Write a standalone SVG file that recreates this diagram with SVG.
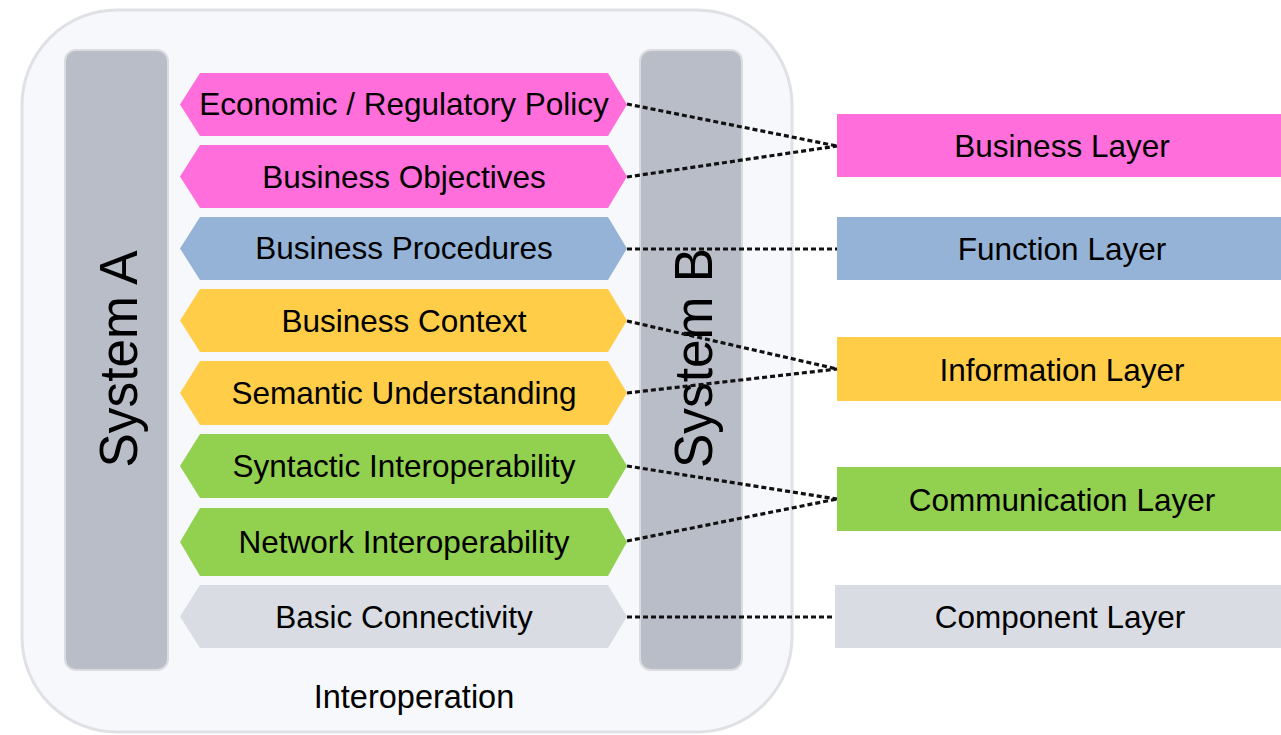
<svg xmlns="http://www.w3.org/2000/svg" width="1281" height="735" viewBox="0 0 1281 735">
<defs>
<style>
text{font-family:"Liberation Sans",Arial,sans-serif;fill:#000;text-anchor:middle}
.lbl{font-size:31.5px}
.title{font-size:32.5px}
.sys{font-size:54px}
.bar{fill:#B8BDC8;stroke:#DADCE0;stroke-width:2}
.hex{stroke:none}
.pink{fill:#FF6EDA}
.blue{fill:#95B3D7}
.yellow{fill:#FFCD48}
.green{fill:#92D050}
.gray{fill:#D9DCE2}
.conn{fill:none;stroke:#111;stroke-width:3.2;stroke-dasharray:5 3}
</style>
</defs>
<rect x="0" y="0" width="1281" height="735" fill="#FFFFFF"/>
<g id="interoperation">
<rect x="22" y="10" width="770" height="722" rx="95" ry="95" fill="#F7F8FB" stroke="#DFE1E5" stroke-width="3"/>
<text class="title" x="414" y="708">Interoperation</text>
</g>
<g id="system-a">
<rect class="bar" x="65" y="50" width="103" height="620" rx="11"/>
<text class="sys" transform="translate(137,359) rotate(-90)" textLength="217" lengthAdjust="spacingAndGlyphs">System A</text>
</g>
<g id="system-b">
<rect class="bar" x="640" y="50" width="102" height="620" rx="11"/>
<text class="sys" transform="translate(712,358) rotate(-90)" textLength="220" lengthAdjust="spacingAndGlyphs">System B</text>
</g>
<g id="hex-economic">
<polygon class="hex pink" points="180,104.5 200,73 608,73 627,104.5 608,136 200,136"/>
<text class="lbl" x="404" y="115">Economic / Regulatory Policy</text>
</g>
<g id="hex-objectives">
<polygon class="hex pink" points="180,176.5 200,145 608,145 627,176.5 608,208 200,208"/>
<text class="lbl" x="404" y="188">Business Objectives</text>
</g>
<g id="hex-procedures">
<polygon class="hex blue" points="180,248.5 200,217 608,217 627,248.5 608,280 200,280"/>
<text class="lbl" x="404" y="259">Business Procedures</text>
</g>
<g id="hex-context">
<polygon class="hex yellow" points="180,320.5 200,289 608,289 627,320.5 608,352 200,352"/>
<text class="lbl" x="404" y="332">Business Context</text>
</g>
<g id="hex-semantic">
<polygon class="hex yellow" points="180,393 200,361 608,361 627,393 608,425 200,425"/>
<text class="lbl" x="404" y="404">Semantic Understanding</text>
</g>
<g id="hex-syntactic">
<polygon class="hex green" points="180,466 200,434 608,434 627,466 608,498 200,498"/>
<text class="lbl" x="404" y="477">Syntactic Interoperability</text>
</g>
<g id="hex-network">
<polygon class="hex green" points="180,542 200,508 608,508 627,542 608,576 200,576"/>
<text class="lbl" x="404" y="553">Network Interoperability</text>
</g>
<g id="hex-basic">
<polygon class="hex gray" points="180,616.5 200,585 608,585 627,616.5 608,648 200,648"/>
<text class="lbl" x="404" y="628">Basic Connectivity</text>
</g>
<g id="layer-business">
<rect class="pink" x="837" y="114" width="444" height="63"/>
<text class="lbl" x="1062" y="157">Business Layer</text>
</g>
<g id="layer-function">
<rect class="blue" x="837" y="217" width="444" height="63"/>
<text class="lbl" x="1062" y="260">Function Layer</text>
</g>
<g id="layer-information">
<rect class="yellow" x="837" y="337" width="444" height="64"/>
<text class="lbl" x="1062" y="381">Information Layer</text>
</g>
<g id="layer-communication">
<rect class="green" x="837" y="467" width="444" height="64"/>
<text class="lbl" x="1062" y="511">Communication Layer</text>
</g>
<g id="layer-component">
<rect class="gray" x="835" y="585" width="446" height="63"/>
<text class="lbl" x="1060" y="628">Component Layer</text>
</g>
<g id="connectors">
<line class="conn" x1="627" y1="104" x2="837" y2="146"/>
<line class="conn" x1="627" y1="177" x2="837" y2="146"/>
<line class="conn" x1="627" y1="249" x2="837" y2="249"/>
<line class="conn" x1="627" y1="321" x2="837" y2="369"/>
<line class="conn" x1="627" y1="393" x2="837" y2="369"/>
<line class="conn" x1="627" y1="466" x2="837" y2="499"/>
<line class="conn" x1="627" y1="541" x2="837" y2="499"/>
<line class="conn" x1="627" y1="617" x2="833" y2="617"/>
</g>
</svg>
